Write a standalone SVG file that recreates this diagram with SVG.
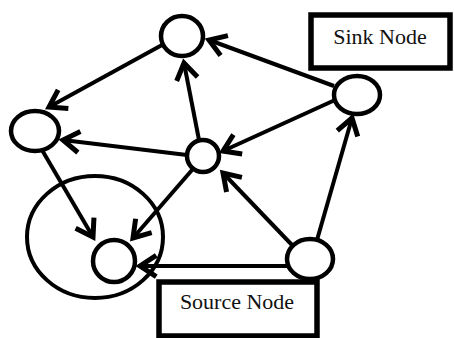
<svg xmlns="http://www.w3.org/2000/svg" width="454" height="338" viewBox="0 0 454 338">
<style>
.n{fill:#fff;stroke:#000;stroke-width:4.5}
.e{stroke:#000;stroke-width:4;fill:none;marker-end:url(#ah)}
.box{fill:#fff;stroke:#000;stroke-width:5.5}
.t{font-family:"Liberation Serif","Times New Roman",serif;font-size:22px;fill:#111;text-anchor:middle}
</style>
<defs>
<marker id="ah" markerUnits="userSpaceOnUse" markerWidth="30" markerHeight="30" viewBox="-16 -12 20 24" refX="0" refY="0" orient="auto">
<path d="M -13 -8.5 L 0 0 L -13 8.5" fill="none" stroke="#000" stroke-width="4"/>
</marker>
</defs>
<rect width="454" height="338" fill="#fff"/>
<g id="cluster"><ellipse cx="95" cy="237" rx="68" ry="61" fill="none" stroke="#000" stroke-width="4"/></g>
<g id="connectors">
<line class="e" x1="334" y1="86" x2="209" y2="40"/>
<line class="e" x1="162" y1="45" x2="49" y2="107"/>
<line class="e" x1="199" y1="140" x2="184" y2="63"/>
<line class="e" x1="187" y1="155" x2="63" y2="140"/>
<line class="e" x1="335" y1="100" x2="223" y2="151"/>
<line class="e" x1="42" y1="150" x2="93" y2="237"/>
<line class="e" x1="192" y1="170" x2="133" y2="238"/>
<line class="e" x1="292" y1="245" x2="223" y2="173"/>
<line class="e" x1="317" y1="240" x2="352" y2="118"/>
<line class="e" x1="288" y1="266" x2="140" y2="266"/>
</g>
<g id="nodeA"><ellipse class="n" cx="182" cy="36" rx="21" ry="20"/></g>
<g id="nodeB"><ellipse class="n" cx="35" cy="131" rx="24" ry="20"/></g>
<g id="nodeC"><ellipse class="n" cx="203" cy="156" rx="16" ry="16"/></g>
<g id="nodeD"><ellipse class="n" cx="357" cy="95" rx="23" ry="19"/></g>
<g id="nodeE"><ellipse class="n" cx="114" cy="261" rx="21" ry="21"/></g>
<g id="nodeF"><ellipse class="n" cx="310" cy="259" rx="23" ry="20"/></g>
<g id="sinkLabel"><rect class="box" x="311" y="15" width="139" height="53"/><text class="t" x="380" y="44">Sink Node</text></g>
<g id="sourceLabel"><rect class="box" x="159" y="282" width="158" height="54"/><text class="t" x="237" y="309">Source Node</text></g>
</svg>
